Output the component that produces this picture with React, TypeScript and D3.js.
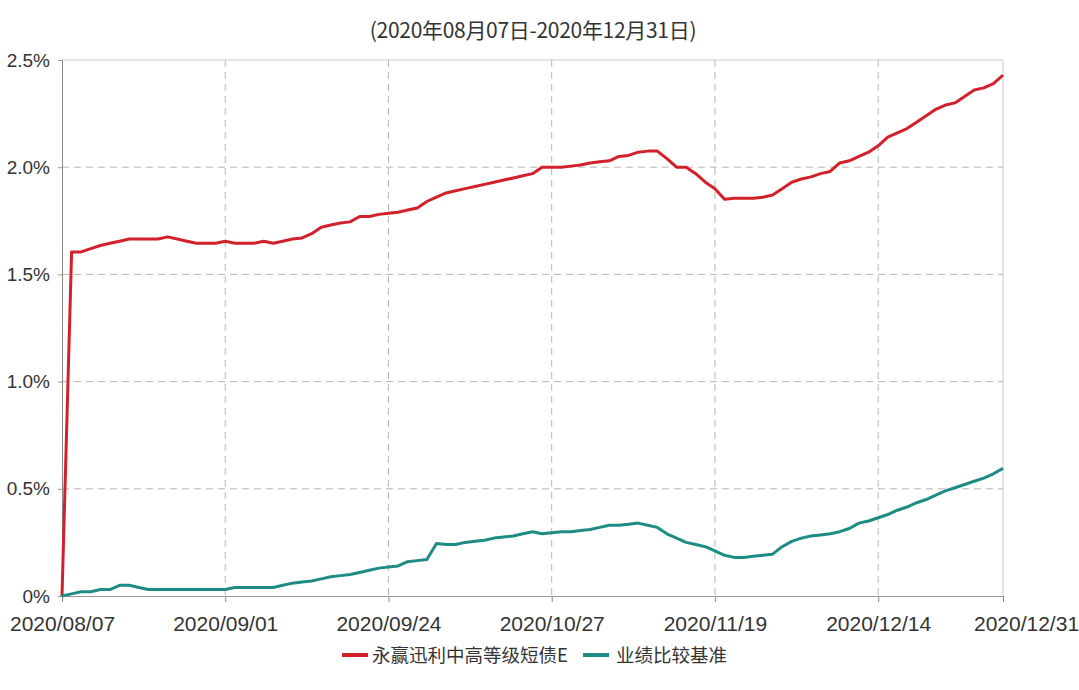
import { useEffect, useRef } from 'react';
import * as d3 from 'd3';

// trading days, 2020/08/07 - 2020/12/31
const tradingDays = [
  '2020/08/07', '2020/08/10', '2020/08/11', '2020/08/12', '2020/08/13', '2020/08/14',
  '2020/08/17', '2020/08/18', '2020/08/19', '2020/08/20', '2020/08/21',
  '2020/08/24', '2020/08/25', '2020/08/26', '2020/08/27', '2020/08/28', '2020/08/31',
  '2020/09/01', '2020/09/02', '2020/09/03', '2020/09/04',
  '2020/09/07', '2020/09/08', '2020/09/09', '2020/09/10', '2020/09/11',
  '2020/09/14', '2020/09/15', '2020/09/16', '2020/09/17', '2020/09/18',
  '2020/09/21', '2020/09/22', '2020/09/23', '2020/09/24', '2020/09/25',
  '2020/09/28', '2020/09/29', '2020/09/30',
  '2020/10/09', '2020/10/12', '2020/10/13', '2020/10/14', '2020/10/15', '2020/10/16',
  '2020/10/19', '2020/10/20', '2020/10/21', '2020/10/22', '2020/10/23',
  '2020/10/26', '2020/10/27', '2020/10/28', '2020/10/29', '2020/10/30',
  '2020/11/02', '2020/11/03', '2020/11/04', '2020/11/05', '2020/11/06',
  '2020/11/09', '2020/11/10', '2020/11/11', '2020/11/12', '2020/11/13',
  '2020/11/16', '2020/11/17', '2020/11/18', '2020/11/19', '2020/11/20',
  '2020/11/23', '2020/11/24', '2020/11/25', '2020/11/26', '2020/11/27', '2020/11/30',
  '2020/12/01', '2020/12/02', '2020/12/03', '2020/12/04',
  '2020/12/07', '2020/12/08', '2020/12/09', '2020/12/10', '2020/12/11',
  '2020/12/14', '2020/12/15', '2020/12/16', '2020/12/17', '2020/12/18',
  '2020/12/21', '2020/12/22', '2020/12/23', '2020/12/24', '2020/12/25',
  '2020/12/28', '2020/12/29', '2020/12/30', '2020/12/31',
];

// cumulative return, %
const fundReturns = [
  0, 1.605, 1.605, 1.62, 1.635, 1.645, 1.655, 1.665, 1.665, 1.665, 1.665,
  1.675, 1.665, 1.655, 1.645, 1.645, 1.645, 1.655, 1.645, 1.645, 1.645,
  1.655, 1.645, 1.655, 1.665, 1.67, 1.69, 1.72, 1.73, 1.74, 1.745,
  1.77, 1.77, 1.78, 1.785, 1.79, 1.8, 1.81, 1.84, 1.86, 1.88,
  1.89, 1.9, 1.91, 1.92, 1.93, 1.94, 1.95, 1.96, 1.97, 2.0,
  2.0, 2.0, 2.005, 2.01, 2.02, 2.025, 2.03, 2.05, 2.055, 2.07,
  2.075, 2.075, 2.04, 2.0, 2.0, 1.97, 1.93, 1.9, 1.85, 1.855,
  1.855, 1.855, 1.86, 1.87, 1.9, 1.93, 1.945, 1.955, 1.97, 1.98,
  2.02, 2.03, 2.05, 2.07, 2.1, 2.14, 2.16, 2.18, 2.21, 2.24,
  2.27, 2.29, 2.3, 2.33, 2.36, 2.37, 2.39, 2.43,
];

const benchmarkReturns = [
  0, 0.01, 0.02, 0.02, 0.03, 0.03, 0.05, 0.05, 0.04, 0.03, 0.03,
  0.03, 0.03, 0.03, 0.03, 0.03, 0.03, 0.03, 0.04, 0.04, 0.04,
  0.04, 0.04, 0.05, 0.06, 0.065, 0.07, 0.08, 0.09, 0.095, 0.1,
  0.11, 0.12, 0.13, 0.135, 0.14, 0.16, 0.165, 0.17, 0.245, 0.24,
  0.24, 0.25, 0.255, 0.26, 0.27, 0.275, 0.28, 0.29, 0.3, 0.29,
  0.295, 0.3, 0.3, 0.305, 0.31, 0.32, 0.33, 0.33, 0.335, 0.34,
  0.33, 0.32, 0.29, 0.27, 0.25, 0.24, 0.23, 0.21, 0.19, 0.18,
  0.18, 0.185, 0.19, 0.195, 0.23, 0.255, 0.27, 0.28, 0.285, 0.29,
  0.3, 0.315, 0.34, 0.35, 0.365, 0.38, 0.4, 0.415, 0.435, 0.45,
  0.47, 0.49, 0.505, 0.52, 0.535, 0.55, 0.57, 0.595,
];

const xTickLabels = ['2020/08/07', '2020/09/01', '2020/09/24', '2020/10/27', '2020/11/19', '2020/12/14', '2020/12/31'];
const yTicks = [0, 0.5, 1.0, 1.5, 2.0, 2.5];
const seriesNames = ['永赢迅利中高等级短债E', '业绩比较基准'];
const title = '(2020年08月07日-2020年12月31日)';

const colors = ['#d3212b', '#1e8c86'];
const font = "'Liberation Sans Narrow', 'Arial Narrow', 'Liberation Sans', Arial, sans-serif";
const cjkFont = "'Noto Sans CJK SC', 'Liberation Sans', sans-serif";

export default function App() {
  const svgRef = useRef<SVGSVGElement>(null);

  useEffect(() => {
    if (!svgRef.current) return;
    const svg = d3.select(svgRef.current);
    svg.selectAll('*').remove();

    const W = 1079;
    const H = 690;
    const margin = { top: 60, right: 76, bottom: 94, left: 62 };
    const left = margin.left;
    const right = W - margin.right;
    const top = margin.top;
    const bottom = H - margin.bottom;

    svg.attr('width', W).attr('height', H);
    svg.append('rect').attr('width', W).attr('height', H).attr('fill', '#fff');

    const x = d3.scalePoint<string>().domain(tradingDays).range([left, right]);
    const y = d3.scaleLinear().domain([0, 2.5]).range([bottom, top]);

    // title
    svg
      .append('text')
      .attr('x', 533)
      .attr('y', 38)
      .attr('text-anchor', 'middle')
      .attr('font-family', cjkFont)
      .attr('font-size', 21)
      .attr('fill', '#333')
      .attr('letter-spacing', -0.3)
      .text(title);

    // horizontal grid
    const grid = svg.append('g');
    grid
      .selectAll('line.h')
      .data(yTicks.filter((d) => d > 0 && d < 2.5))
      .enter()
      .append('line')
      .attr('x1', left)
      .attr('x2', right)
      .attr('y1', (d) => y(d))
      .attr('y2', (d) => y(d))
      .attr('stroke', '#b5b5b5')
      .attr('stroke-dasharray', '7,5');

    // vertical grid
    grid
      .selectAll('line.v')
      .data(xTickLabels.slice(1, -1))
      .enter()
      .append('line')
      .attr('x1', (d) => x(d)!)
      .attr('x2', (d) => x(d)!)
      .attr('y1', top)
      .attr('y2', bottom)
      .attr('stroke', '#b5b5b5')
      .attr('stroke-dasharray', '7,5');

    // frame
    svg
      .append('path')
      .attr('d', `M${left},${top}H${right}V${bottom}`)
      .attr('fill', 'none')
      .attr('stroke', '#c8c8c8');

    // x axis
    const xAxis = svg
      .append('g')
      .attr('transform', `translate(0,${bottom})`)
      .call(d3.axisBottom(x).tickValues(xTickLabels).tickSize(6).tickPadding(14));
    xAxis.select('.domain').attr('stroke', '#999');
    xAxis.selectAll('.tick line').attr('stroke', '#888');
    xAxis
      .selectAll('.tick text')
      .attr('font-family', font)
      .attr('font-size', 21)
      .attr('fill', '#333');
    xAxis
      .selectAll<SVGTextElement, string>('.tick text')
      .filter((d) => d === xTickLabels[xTickLabels.length - 1])
      .attr('dx', 23);

    // y axis
    const yAxis = svg
      .append('g')
      .attr('transform', `translate(${left},0)`)
      .call(
        d3
          .axisLeft(y)
          .tickValues(yTicks)
          .tickSize(4)
          .tickPadding(8)
          .tickFormat((d) => (+d === 0 ? '0%' : `${(+d).toFixed(1)}%`))
      );
    yAxis.select('.domain').attr('stroke', '#888');
    yAxis.selectAll('.tick line').attr('stroke', '#999');
    yAxis
      .selectAll('.tick text')
      .attr('font-family', font)
      .attr('font-size', 19)
      .attr('fill', '#333');

    // lines
    const series = [fundReturns, benchmarkReturns];
    const line = d3
      .line<number>()
      .x((_, i) => x(tradingDays[i])!)
      .y((d) => y(d));

    series.forEach((values, k) => {
      svg
        .append('path')
        .datum(values)
        .attr('fill', 'none')
        .attr('stroke', colors[k])
        .attr('stroke-width', 3)
        .attr('stroke-linejoin', 'round')
        .attr('d', line);
    });

    // legend
    const legend = svg.append('g').attr('transform', 'translate(0,655)');
    const legendPos = [
      { lx: 342, tx: 372 },
      { lx: 583, tx: 616 },
    ];
    seriesNames.forEach((name, k) => {
      legend
        .append('line')
        .attr('x1', legendPos[k].lx)
        .attr('x2', legendPos[k].lx + 26)
        .attr('stroke', colors[k])
        .attr('stroke-width', 4);
      legend
        .append('text')
        .attr('x', legendPos[k].tx)
        .attr('y', 7)
        .attr('font-family', cjkFont)
        .attr('font-size', 18.5)
        .attr('fill', '#333')
        .text(name);
    });
  }, []);

  return (
    <div style={{ position: 'absolute', left: 0, top: 0 }}>
      <svg ref={svgRef} style={{ display: 'block' }}></svg>
    </div>
  );
}
